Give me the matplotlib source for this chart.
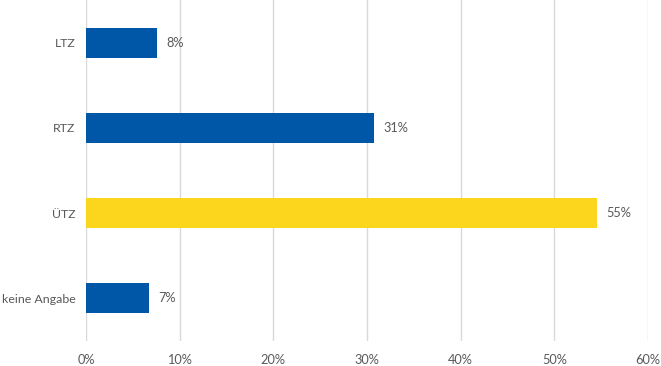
import matplotlib
matplotlib.use("Agg")
import matplotlib.pyplot as plt

categories = ["LTZ", "RTZ", "ÜTZ", "keine Angabe"]
values = [7.6, 30.8, 54.6, 6.7]
labels = ["8%", "31%", "55%", "7%"]
colors = ["#0057A8", "#0057A8", "#FCD61D", "#0057A8"]
xticks = [0, 10, 20, 30, 40, 50, 60]

TXT = "#595959"
plt.rcParams["font.family"] = ["Lato", "DejaVu Sans"]

fig = plt.figure(figsize=(6.61, 3.66), dpi=100)
ax = fig.add_axes([86 / 661, 25 / 366, 562 / 661, 341 / 366])

ypos = list(range(len(categories)))
ax.barh(ypos, values, height=0.35, color=colors, zorder=3)
for y, v, lab in zip(ypos, values, labels):
    ax.text(v + 1.0, y, lab, va="center", ha="left", fontsize=9.2, color=TXT)

ax.set_ylim(len(categories) - 0.5, -0.5)
ax.set_xlim(0, 60)
ax.set_yticks(ypos)
ax.set_yticklabels(categories, fontsize=8.9, color=TXT)
ax.set_xticks(xticks)
ax.set_xticklabels([f"{t}%" for t in xticks], fontsize=9.2, color=TXT)
ax.tick_params(axis="y", length=0, pad=7.5)
ax.tick_params(axis="x", length=0, pad=9)
ax.grid(axis="x", color="#D9D9D9", lw=1, zorder=0)
for s in ax.spines.values():
    s.set_visible(False)

fig.savefig("out.png", dpi=100)
